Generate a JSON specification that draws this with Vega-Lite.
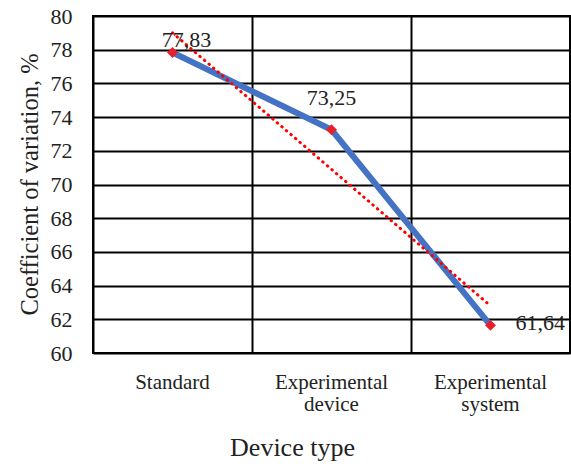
{
  "$schema": "https://vega.github.io/schema/vega-lite/v6.json",
  "width": 477,
  "height": 337,
  "autosize": {"type": "none"},
  "padding": {"left": 93, "top": 16, "right": 1, "bottom": 111},
  "config": {
    "view": {"stroke": "black", "strokeWidth": 2},
    "font": "Liberation Serif",
    "axis": {"labelFont": "Liberation Serif", "titleFont": "Liberation Serif", "labelColor": "#222", "titleColor": "#222", "titleFontWeight": "normal"},
    "text": {"font": "Liberation Serif"}
  },
  "data": {"values": [
    {"device": "Standard", "series": "actual", "value": 77.83, "label": "77,83"},
    {"device": "Experimental\ndevice", "series": "actual", "value": 73.25, "label": "73,25"},
    {"device": "Experimental\nsystem", "series": "actual", "value": 61.64, "label": "61,64"},
    {"device": "Standard", "series": "trend", "value": 79.0, "label": ""},
    {"device": "Experimental\ndevice", "series": "trend", "value": 70.9, "label": ""},
    {"device": "Experimental\nsystem", "series": "trend", "value": 62.8, "label": ""}
  ]},
  "encoding": {
    "y": {"field": "value", "type": "quantitative",
      "scale": {"domain": [60, 80], "nice": false, "zero": false},
      "axis": {"values": [60, 62, 64, 66, 68, 70, 72, 74, 76, 78, 80], "tickCount": 20, "labelOverlap": false, "grid": true, "gridColor": "black", "gridWidth": 2, "gridOpacity": 1, "domain": false, "ticks": false, "labelFontSize": 22, "labelPadding": 21,
        "title": "Coefficient of variation, %", "titleFontSize": 24.5, "titleX": -56, "titleY": 168, "titleBaseline": "alphabetic", "titleAlign": "center", "titleAngle": -90}}
  },
  "layer": [
    {
      "transform": [{"filter": "datum.series == 'actual'"}],
      "mark": {"type": "line", "color": "#4472C4", "strokeWidth": 6},
      "encoding": {
        "x": {"field": "device", "type": "nominal", "sort": null,
          "scale": {"type": "band", "paddingInner": 0, "paddingOuter": 0},
          "axis": {"labelExpr": "split(datum.label, '\\n')", "labelFontSize": 21, "labelPadding": 18, "labelLineHeight": 22, "labelAngle": 0, "ticks": false, "domain": false, "grid": false,
            "title": "Device type", "titleFontSize": 26, "titleX": 199, "titleY": 102, "titleBaseline": "alphabetic", "titleAlign": "center"}}
      }
    },
    {
      "transform": [{"filter": "datum.series == 'trend'"}],
      "mark": {"type": "line", "color": "#FF0000", "strokeWidth": 3, "strokeDash": [0.5, 5.5], "strokeCap": "round"},
      "encoding": {
        "x": {"field": "device", "type": "nominal", "sort": null,
          "axis": {"bandPosition": 0, "grid": true, "gridColor": "black", "gridWidth": 2, "gridOpacity": 1, "labels": false, "ticks": false, "domain": false, "title": null}}
      }
    },
    {
      "transform": [{"filter": "datum.series == 'actual'"}],
      "mark": {"type": "point", "shape": "diamond", "filled": true, "color": "#E8202A", "size": 120, "opacity": 1},
      "encoding": {
        "x": {"field": "device", "type": "nominal", "sort": null, "axis": null}
      }
    },
    {
      "transform": [{"filter": "datum.label == '77,83'"}],
      "mark": {"type": "text", "font": "Liberation Serif", "fontSize": 22, "color": "#222", "align": "center", "baseline": "alphabetic", "dx": 14, "dy": -6},
      "encoding": {
        "x": {"field": "device", "type": "nominal", "sort": null, "axis": null},
        "text": {"field": "label"}
      }
    },
    {
      "transform": [{"filter": "datum.label == '73,25'"}],
      "mark": {"type": "text", "font": "Liberation Serif", "fontSize": 22, "color": "#222", "align": "center", "baseline": "alphabetic", "dx": 0, "dy": -25},
      "encoding": {
        "x": {"field": "device", "type": "nominal", "sort": null, "axis": null},
        "text": {"field": "label"}
      }
    },
    {
      "transform": [{"filter": "datum.label == '61,64'"}],
      "mark": {"type": "text", "font": "Liberation Serif", "fontSize": 22, "color": "#222", "align": "left", "baseline": "alphabetic", "dx": 25, "dy": 5},
      "encoding": {
        "x": {"field": "device", "type": "nominal", "sort": null, "axis": null},
        "text": {"field": "label"}
      }
    }
  ],
  "resolve": {"axis": {"x": "independent"}}
}
